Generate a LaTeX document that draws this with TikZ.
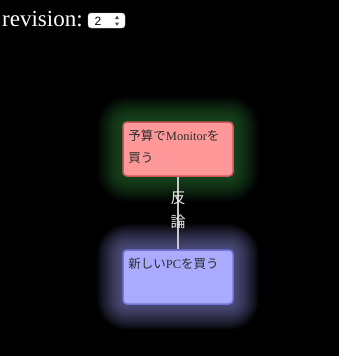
\documentclass[tikz,border=0pt]{standalone}
\usepackage{fontspec}
\setmainfont{Liberation Serif}
\newfontfamily\jp{Noto Sans CJK JP}
\newfontfamily\uisans{Liberation Sans}
\usetikzlibrary{calc}
\definecolor{redfill}{RGB}{255,153,153}
\definecolor{redline}{RGB}{205,85,85}
\definecolor{bluefill}{RGB}{170,170,255}
\definecolor{blueline}{RGB}{115,115,215}
\definecolor{glowgreen}{RGB}{60,170,90}
\definecolor{glowblue}{RGB}{165,165,255}
\definecolor{boxtext}{RGB}{45,45,45}
\definecolor{edgegrey}{RGB}{200,200,200}
\definecolor{labelgrey}{RGB}{230,230,230}
\begin{document}
\begin{tikzpicture}[x=1pt,y=-1pt,
  box/.style={draw, line width=1.5pt, rounded corners=4pt, minimum width=110pt, minimum height=54pt, inner sep=0pt},
  redbox/.style={box, fill=redfill, draw=redline},
  bluebox/.style={box, fill=bluefill, draw=blueline},
  boxlabel/.style={anchor=north west, inner sep=0pt, align=left, text=boxtext, font=\fontsize{12.5}{22}\selectfont},
  edgelabel/.style={align=center, inner sep=0pt, text=labelgrey, font=\jp\fontsize{15}{24}\selectfont},
  connector/.style={draw=edgegrey, line width=1.5pt},
  selectbox/.style={draw=gray!60, fill=white, rounded corners=3pt, minimum width=37pt, minimum height=15pt, inner sep=0pt}
]
\useasboundingbox (0,0) rectangle (339,356);
\fill[black] (0,0) rectangle (339,356);

% title and selector
\node[anchor=base west, inner sep=0pt, text=white, font=\fontsize{23}{25}\selectfont] (title) at (2,26) {revision:};
\node[selectbox] (sel) at (106.5,20.5) {};
\node[anchor=center, inner sep=0pt, font=\uisans\fontsize{12}{12}\selectfont] (selval) at (98,21) {2};
\fill[black!70] (115,19) -- (119,19) -- (117,15.5) -- cycle;
\fill[black!70] (115,22.5) -- (119,22.5) -- (117,26) -- cycle;

% glows
\foreach \i in {1,...,26} {
  \fill[glowgreen, opacity=0.024, rounded corners=4+\i] (123-\i,122-\i) rectangle (233+\i,176+\i);
  \fill[glowblue, opacity=0.028, rounded corners=4+\i] (123-\i,250-\i) rectangle (233+\i,304+\i);
}

% boxes
\node[redbox] (a) at (178,149) {};
\node[bluebox] (b) at (178,277) {};
\node[boxlabel] (atext) at ($(a.north west)+(6,8.5)$) {{\jp 予算で}Monitor{\jp を}\\{\jp 買う}};
\node[boxlabel] (btext) at ($(b.north west)+(6,8.5)$) {{\jp 新しい}PC{\jp を買う}};

% connector
\draw[connector] (a.south) -- (b.north) node[edgelabel, midway, yshift=3pt] (elabel) {反\\論};
\end{tikzpicture}
\end{document}
